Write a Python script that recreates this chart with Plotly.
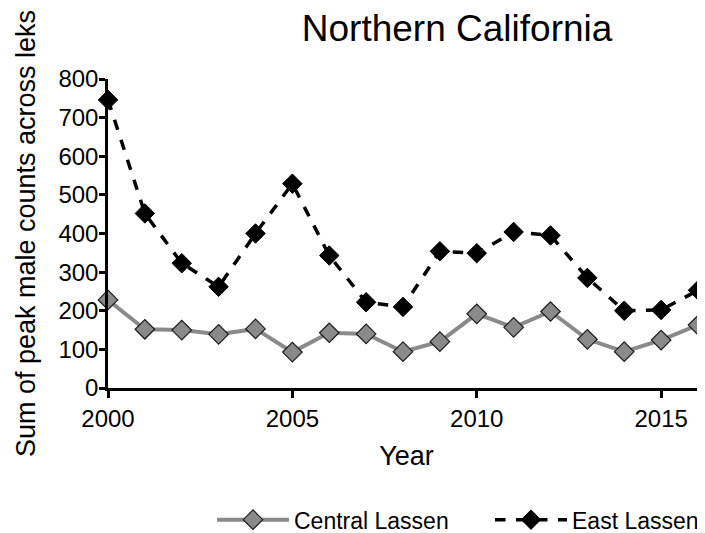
import plotly.graph_objects as go

years = [2000, 2001, 2002, 2003, 2004, 2005, 2006, 2007, 2008, 2009, 2010, 2011, 2012, 2013, 2014, 2015, 2016]
central_lassen = [228, 152, 150, 139, 153, 93, 143, 140, 94, 120, 192, 157, 198, 126, 94, 124, 163]
east_lassen = [746, 452, 323, 262, 400, 529, 343, 222, 210, 354, 349, 404, 395, 285, 200, 202, 253]
x_ticks = [2000, 2005, 2010, 2015]
y_ticks = [0, 100, 200, 300, 400, 500, 600, 700, 800]

font_family = "Liberation Sans, Arial, sans-serif"

fig = go.Figure()
fig.add_trace(go.Scatter(
    x=years, y=central_lassen, name="Central Lassen", mode="lines+markers",
    line=dict(color="#8a8a8a", width=4),
    marker=dict(symbol="diamond", size=15, color="#8a8a8a", line=dict(color="#1a1a1a", width=1.2)),
    cliponaxis=False, legend="legend",
))
fig.add_trace(go.Scatter(
    x=years, y=east_lassen, name="East Lassen", mode="lines+markers",
    line=dict(color="#000000", width=3.5, dash="dash"),
    marker=dict(symbol="diamond", size=15, color="#000000", line=dict(color="#000000", width=1)),
    cliponaxis=False, legend="legend2",
))

legend_common = dict(orientation="h", xanchor="left", xref="container",
                     y=0.04, yanchor="middle", yref="container",
                     font=dict(size=23, family=font_family), itemwidth=72,
                     bgcolor="rgba(0,0,0,0)")

fig.update_layout(
    width=705, height=533,
    margin=dict(l=100, r=8, t=71, b=153, autoexpand=False),
    paper_bgcolor="white", plot_bgcolor="white",
    font=dict(family=font_family, color="#000000", size=24),
    title=dict(text="Northern California", x=0.637, xanchor="center", xref="container",
               y=0.962, yanchor="middle", yref="container", automargin=False,
               font=dict(size=37, family=font_family, color="#000000")),
    showlegend=True,
    legend=dict(x=204 / 705, **legend_common),
    legend2=dict(x=482 / 705, **legend_common),
)
fig.update_xaxes(
    range=[2000, 2016.19], tickvals=x_ticks, ticktext=[str(t) for t in x_ticks],
    showline=True, linecolor="#000000", linewidth=2.5,
    ticks="outside", ticklen=7, tickwidth=2.5, tickcolor="#000000",
    showgrid=False, zeroline=False, automargin=False,
    tickfont=dict(size=24),
    title=dict(text="Year", font=dict(size=27), standoff=16),
)
fig.update_yaxes(
    range=[0, 800], tickvals=y_ticks,
    showline=True, linecolor="#000000", linewidth=2.5,
    ticks="outside", ticklen=6, tickwidth=2.5, tickcolor="#000000",
    showgrid=False, zeroline=False, automargin=False,
    tickfont=dict(size=24), ticklabelstandoff=-4,
    title=dict(text="Sum of peak male counts across leks", font=dict(size=27), standoff=15),
)

fig.write_html("out.html")
